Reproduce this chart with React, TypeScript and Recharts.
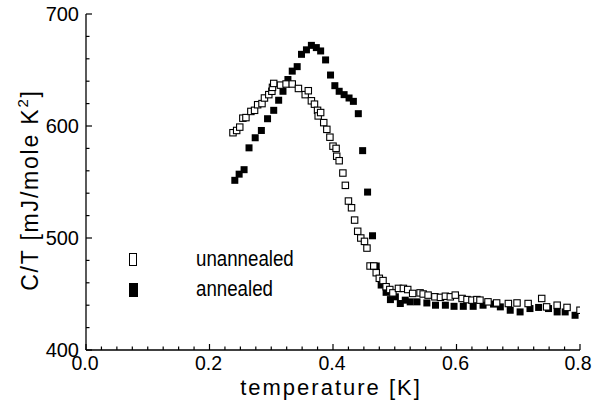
import React from 'react';
import { ScatterChart, Scatter, XAxis, YAxis, Legend } from 'recharts';

// temperature [K] and C/T [mJ/mole K^2]
const tempUnannealed = [0.238,0.244,0.249,0.254,0.259,0.267,0.273,0.278,0.285,0.289,0.296,0.301,0.302,0.304,0.315,0.324,0.334,0.344,0.355,0.360,0.365,0.370,0.375,0.376,0.380,0.385,0.390,0.395,0.400,0.405,0.406,0.410,0.416,0.420,0.425,0.430,0.435,0.440,0.445,0.451,0.455,0.460,0.466,0.470,0.475,0.481,0.486,0.492,0.497,0.506,0.514,0.521,0.529,0.541,0.546,0.554,0.565,0.574,0.582,0.590,0.598,0.609,0.617,0.625,0.633,0.638,0.651,0.665,0.684,0.698,0.716,0.738,0.746,0.763,0.779,0.800];
const ctUnannealed = [594,596,599,607,607.5,613,614,619,620,625,628,631,634.5,638,636.5,637.5,637.5,633.5,628,631.5,622.5,619.5,614,609,612,603,597,590,582,580,573,569,558,547,533,527,516,506,500,497,491,475,475,469,464,462,456.5,454,451,455,455,454,450.5,451,450,449,447.5,447,448,447.5,449,446,445,444.5,445,444.5,443,442,441.5,442,441.5,446,438.5,440,438,435.5];

const tempAnnealed = [0.241,0.248,0.256,0.264,0.274,0.284,0.294,0.304,0.312,0.319,0.327,0.334,0.342,0.349,0.357,0.365,0.373,0.380,0.388,0.396,0.403,0.410,0.418,0.426,0.433,0.441,0.448,0.456,0.464,0.470,0.478,0.486,0.493,0.501,0.509,0.517,0.525,0.536,0.552,0.566,0.582,0.596,0.611,0.627,0.643,0.660,0.671,0.687,0.703,0.719,0.733,0.749,0.763,0.776,0.792];
const ctAnnealed = [551.5,557,561,580.5,589.5,596,606.5,614,623,631,641.5,649,653,664,668,672,670,667,659,645.5,636,631,628,625,622,611,578,541,502,475,458,451.5,445,447.5,441.5,444.5,443,443,442,440,440,439,439,439,440,441,438.5,435.5,434,437,438,437,434,434,431];

const seriesNames = ['unannealed', 'annealed'];
const xMajorTicks = [0, 0.2, 0.4, 0.6, 0.8];
const xAllTicks = [0,0.025,0.05,0.075,0.1,0.125,0.15,0.175,0.2,0.225,0.25,0.275,0.3,0.325,0.35,0.375,0.4,0.425,0.45,0.475,0.5,0.525,0.55,0.575,0.6,0.625,0.65,0.675,0.7,0.725,0.75,0.775,0.8];
const yMajorTicks = [400, 500, 600, 700];
const yAllTicks = [400,420,440,460,480,500,520,540,560,580,600,620,640,660,680,700];

const dataUnannealed = tempUnannealed.map((t, i) => ({ t, c: ctUnannealed[i] }));
const dataAnnealed = tempAnnealed.map((t, i) => ({ t, c: ctAnnealed[i] }));

const FONT = '"Liberation Sans", Arial, sans-serif';

const isMajor = (v: number, list: number[]) => list.some((m) => Math.abs(m - v) < 1e-6);

const XTick = (props: any) => {
  const { x, y, payload } = props;
  const v = payload.value;
  const major = isMajor(v, xMajorTicks);
  const last = Math.abs(v - 0.8) < 1e-6;
  return (
    <g>
      <line x1={x} x2={x} y1={y} y2={y - (major ? 6 : 3.5)} stroke="#000" strokeWidth={1.2} />
      {major && (
        <text x={last ? x - 2 : x - 1} y={y + 20} textAnchor="middle" fontFamily={FONT} fontSize={19.5} fill="#000">
          {v.toFixed(1)}
        </text>
      )}
    </g>
  );
};

const YTick = (props: any) => {
  const { x, y, payload } = props;
  const v = payload.value;
  const major = isMajor(v, yMajorTicks);
  return (
    <g>
      <line x1={x} x2={x + (major ? 6 : 3.5)} y1={y} y2={y} stroke="#000" strokeWidth={1.2} />
      {major && (
        <text x={x - 7} y={y + 7} textAnchor="end" fontFamily={FONT} fontSize={20} fill="#000">
          {v}
        </text>
      )}
    </g>
  );
};

const OpenSquare = (props: any) => {
  const { cx, cy } = props;
  return <rect x={cx - 3.2} y={cy - 3.2} width={6.4} height={6.4} fill="#fff" stroke="#000" strokeWidth={1.1} />;
};
const FilledSquare = (props: any) => {
  const { cx, cy } = props;
  return <rect x={cx - 3.5} y={cy - 3.5} width={7} height={7} fill="#000" stroke="none" />;
};

const legendText: React.CSSProperties = {
  position: 'absolute',
  left: 196,
  fontFamily: FONT,
  fontSize: 22,
  lineHeight: '26px',
  color: '#000',
  whiteSpace: 'nowrap',
  transform: 'scaleX(0.85)',
  transformOrigin: '0 0',
};

const LegendContent = () => (
  <div style={{ position: 'relative', width: 593, height: 406, pointerEvents: 'none' }}>
    <div style={{ position: 'absolute', left: 129, top: 253, width: 8, height: 13, border: '1.3px solid #000', background: '#fff', boxSizing: 'border-box' }} />
    <div style={{ ...legendText, top: 246 }}>{seriesNames[0]}</div>
    <div style={{ position: 'absolute', left: 129, top: 283, width: 9, height: 14, background: '#000' }} />
    <div style={{ ...legendText, top: 276 }}>{seriesNames[1]}</div>
  </div>
);

export default function App() {
  return (
    <div style={{ position: 'absolute', left: 0, top: 0, width: 593, height: 406, background: '#fff' }}>
      <ScatterChart width={593} height={406} margin={{ top: 14, right: 13, bottom: 26, left: 26 }}>
        <XAxis
          xAxisId={0}
          dataKey="t"
          type="number"
          domain={[0, 0.8]}
          ticks={xAllTicks}
          interval={0}
          tickSize={0}
          tickMargin={0}
          tickLine={false}
          tick={<XTick />}
          height={30}
          axisLine={{ stroke: '#000', strokeWidth: 1.3 }}
          allowDataOverflow
        />
        <XAxis xAxisId="top" orientation="top" type="number" domain={[0, 0.8]} height={0} tick={false} tickLine={false} axisLine={{ stroke: '#000', strokeWidth: 1.3 }} />
        <YAxis
          yAxisId={0}
          dataKey="c"
          type="number"
          domain={[400, 700]}
          ticks={yAllTicks}
          interval={0}
          tickSize={0}
          tickMargin={0}
          tickLine={false}
          tick={<YTick />}
          width={60}
          axisLine={{ stroke: '#000', strokeWidth: 1.3 }}
          allowDataOverflow
        />
        <YAxis yAxisId="right" orientation="right" type="number" domain={[400, 700]} width={0} tick={false} tickLine={false} axisLine={{ stroke: '#000', strokeWidth: 1.3 }} />
        <Scatter name={seriesNames[1]} data={dataAnnealed} shape={<FilledSquare />} isAnimationActive={false} />
        <Scatter name={seriesNames[0]} data={dataUnannealed} shape={<OpenSquare />} isAnimationActive={false} />
        <Legend layout="vertical" align="center" verticalAlign="middle" content={<LegendContent />} wrapperStyle={{ position: 'absolute', left: 0, top: 0, width: 593, height: 406 }} />
        <text x={30} y={190} transform="rotate(-90 30 190)" textAnchor="middle" fontFamily={FONT} fontSize={23} letterSpacing={1.8} fill="#000" dy={8}>
          C/T [mJ/mole K<tspan fontSize={15} dy={-10}>2</tspan><tspan dy={10}>]</tspan>
        </text>
        <text x={331} y={395} textAnchor="middle" fontFamily={FONT} fontSize={22} letterSpacing={2} fill="#000">
          temperature [K]
        </text>
      </ScatterChart>
    </div>
  );
}
